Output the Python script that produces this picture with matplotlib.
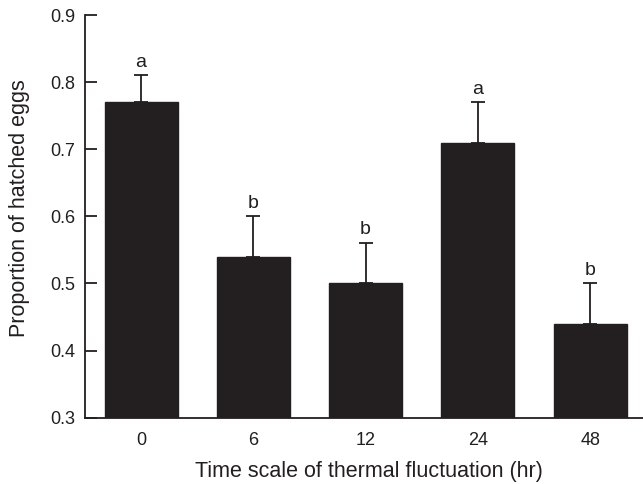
import numpy as np
import matplotlib
matplotlib.use("Agg")
import matplotlib.pyplot as plt

# Daten
timescale = ["0", "6", "12", "24", "48"]
proportion = [0.77, 0.54, 0.50, 0.71, 0.44]
error_up = [0.04, 0.06, 0.06, 0.06, 0.06]
letters = ["a", "b", "b", "a", "b"]

plt.rcParams["font.family"] = ["Liberation Sans", "DejaVu Sans"]
dark = "#231f20"

fig = plt.figure(figsize=(6.43, 4.84), dpi=100)
ax = fig.add_axes([0.132, 0.137, 0.868, 0.832])

x = np.arange(len(timescale))
ax.bar(x, proportion, width=0.65, color=dark, edgecolor=dark, zorder=2)
ax.errorbar(x, proportion, yerr=[np.zeros(len(x)), error_up], fmt="none",
            ecolor=dark, elinewidth=1.3, capsize=5.2, capthick=1.3, zorder=1)

for i in range(len(x)):
    ax.text(x[i], proportion[i] + error_up[i] + 0.013, letters[i],
            ha="center", va="baseline", fontsize=14, color=dark)

ax.set_xlim(-0.5, 4.47)
ax.set_ylim(0.3, 0.9)
ax.set_yticks([0.3, 0.4, 0.5, 0.6, 0.7, 0.8, 0.9])
ax.set_yticklabels(["0.3", "0.4", "0.5", "0.6", "0.7", "0.8", "0.9"])
ax.set_xticks(x)
ax.set_xticklabels(timescale)

ax.spines["top"].set_visible(False)
ax.spines["right"].set_visible(False)
for s in ["left", "bottom"]:
    ax.spines[s].set_color(dark)
    ax.spines[s].set_linewidth(1.3)

ax.tick_params(axis="y", direction="in", length=8.6, width=1.3, color=dark,
               labelsize=13, pad=7, labelcolor=dark)
ax.tick_params(axis="x", length=0, labelsize=13, pad=10, labelcolor=dark)

# Achsentitel als Figurtext, damit die Lage passt
fig.text(0.573, 0.0145, "Time scale of thermal fluctuation (hr)", fontsize=15.5,
         color=dark, ha="center", va="baseline")
fig.text(0.031, 0.570, "Proportion of hatched eggs", fontsize=15.5, color=dark,
         rotation=90, ha="center", va="center")

fig.savefig("out.png", dpi=100)
